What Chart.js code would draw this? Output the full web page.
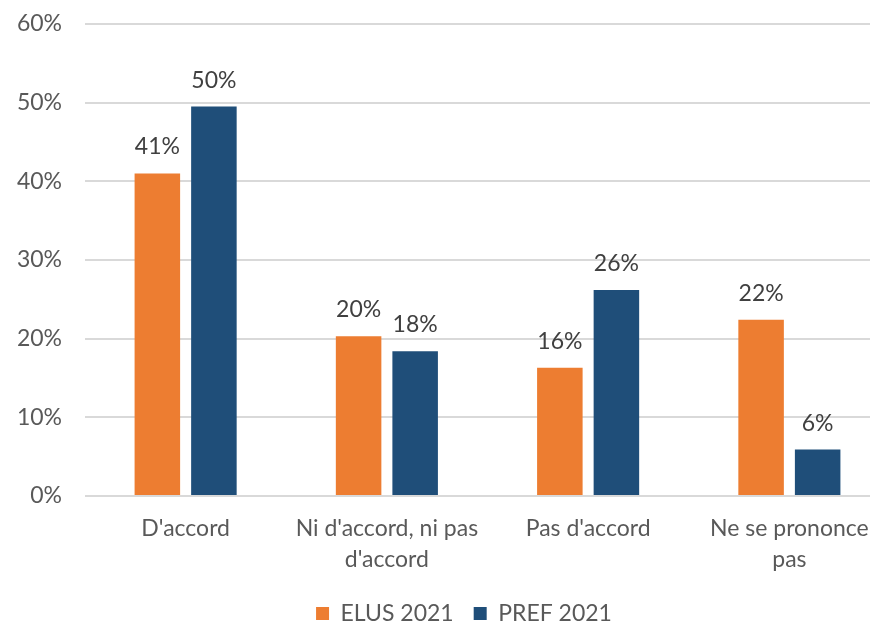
<!DOCTYPE html>
<html>
<head>
<meta charset="utf-8">
<script src="https://cdn.jsdelivr.net/npm/chart.js@4/dist/chart.umd.min.js"></script>
<style>
  html, body { margin: 0; padding: 0; background: #fff; overflow: hidden; }
  #wrap { width: 928px; height: 625px; }
</style>
</head>
<body>
<div id="wrap"><canvas id="chart" width="928" height="625"></canvas></div>
<script>
// Survey answers, two respondent groups (values in %)
const categories = ["D'accord", ["Ni d'accord, ni pas", "d'accord"], "Pas d'accord", ["Ne se prononce", "pas"]];
const elus2021 = [41, 20.3, 16.3, 22.4];
const pref2021 = [49.5, 18.4, 26.2, 5.9];
const seriesNames = ['ELUS 2021', 'PREF 2021'];
const yTicks = [0, 10, 20, 30, 40, 50, 60];

const FONT = 'Lato, "Liberation Sans", sans-serif';
const TEXT = '#595959';
const SIZE = 23;

// writes the rounded value above each bar
const barLabels = {
    id: 'barLabels',
    afterDatasetsDraw(chart) {
        const ctx = chart.ctx;
        ctx.save();
        ctx.font = SIZE + 'px ' + FONT;
        ctx.fillStyle = '#404040';
        ctx.textAlign = 'center';
        ctx.textBaseline = 'alphabetic';
        chart.data.datasets.forEach((ds, i) => {
            chart.getDatasetMeta(i).data.forEach((bar, j) => {
                ctx.fillText(Math.round(ds.data[j]) + '%', bar.x, bar.y - 19);
            });
        });
        ctx.restore();
    }
};

// centre the legend on the whole canvas rather than the padded box
const legendShift = {
    id: 'legendShift',
    afterLayout(chart) {
        const lg = chart.legend;
        const dx = chart.width / 2 - (lg.left + lg.right) / 2;
        lg.left += dx;
        lg.right += dx;
        lg.top += 10;
        lg.bottom += 10;
    }
};

new Chart(document.getElementById('chart'), {
    type: 'bar',
    data: {
        labels: categories,
        datasets: [
            { label: seriesNames[0], data: elus2021, backgroundColor: '#ED7D31' },
            { label: seriesNames[1], data: pref2021, backgroundColor: '#1F4E79' }
        ]
    },
    options: {
        responsive: false,
        animation: false,
        layout: { padding: { left: 0, right: 38, top: 0, bottom: 0 } },
        datasets: { bar: { categoryPercentage: 0.562, barPercentage: 0.805 } },
        scales: {
            x: {
                grid: { display: false },
                border: { display: false },
                afterFit: s => { s.height = 76; },
                ticks: { color: TEXT, font: { family: FONT, size: SIZE, lineHeight: 1.35 }, padding: 9, maxRotation: 0 }
            },
            y: {
                min: 0,
                max: 60,
                afterFit: s => {
                    s.width = 85;
                    s.paddingTop = 24;
                    s.paddingBottom = 0;
                },
                afterBuildTicks: s => { s.ticks = yTicks.map(v => ({ value: v })); },
                grid: { color: '#d9d9d9', lineWidth: 2, drawTicks: false },
                border: { display: false },
                ticks: { color: TEXT, font: { family: FONT, size: SIZE }, padding: 23, callback: v => v + '%' }
            }
        },
        plugins: {
            tooltip: { enabled: false },
            legend: {
                position: 'bottom',
                labels: { color: TEXT, font: { family: FONT, size: SIZE }, boxWidth: 13, boxHeight: 13, padding: 20 }
            }
        }
    },
    plugins: [barLabels, legendShift]
});
</script>
</body>
</html>
